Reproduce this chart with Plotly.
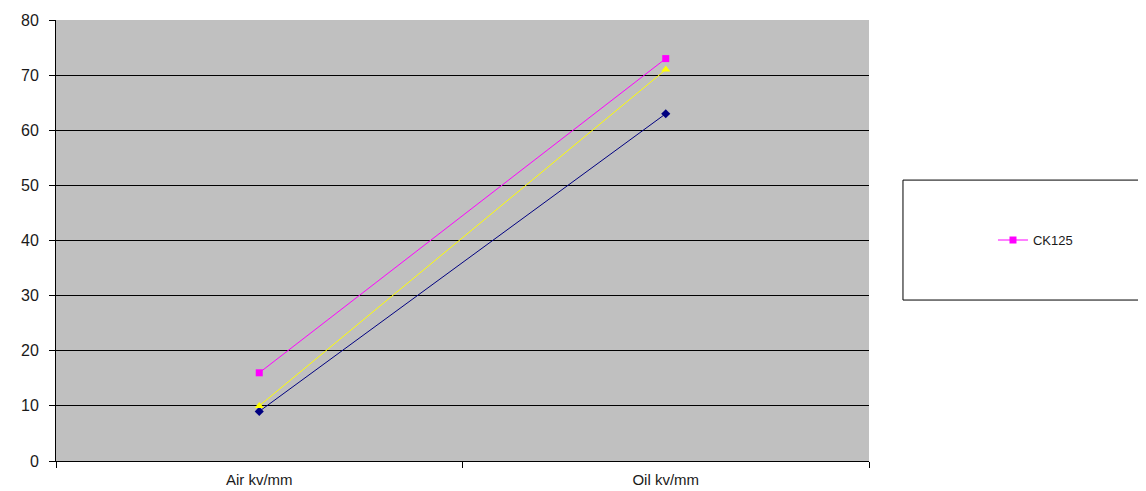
import plotly.graph_objects as go

categories = ["Air kv/mm", "Oil kv/mm"]
series_names = ["Series A", "CK125", "Series C"]
blue_vals = [9, 63]
pink_vals = [16, 73]
yellow_vals = [10, 71]

fig = go.Figure()
fig.add_trace(go.Scatter(x=categories, y=blue_vals, mode="lines+markers", name=series_names[0],
                         line=dict(color="#000080", width=1),
                         marker=dict(symbol="diamond", size=7, color="#000080"), showlegend=False))
fig.add_trace(go.Scatter(x=categories, y=yellow_vals, mode="lines+markers", name=series_names[2],
                         line=dict(color="#FFFF00", width=1),
                         marker=dict(symbol="triangle-up", size=8, color="#FFFF00"), showlegend=False))
fig.add_trace(go.Scatter(x=categories, y=pink_vals, mode="lines+markers", name=series_names[1],
                         line=dict(color="#FF00FF", width=1),
                         marker=dict(symbol="square", size=7, color="#FF00FF"), showlegend=True))

fig.update_layout(
    width=1138, height=483,
    margin=dict(l=48, r=277, t=12, b=30, autoexpand=False),
    paper_bgcolor="white", plot_bgcolor="#C0C0C0",
    font=dict(family="Liberation Sans, Arial, sans-serif", size=14, color="#1a1a1a"),
    xaxis=dict(type="category", range=[-0.5, 1.5], tickson="boundaries", ticks="outside",
               ticklen=6, tickcolor="black", showline=True, linecolor="black", linewidth=1,
               showgrid=False, zeroline=False, tickfont=dict(size=15), automargin=False,
               ticklabelstandoff=5),
    yaxis=dict(range=[0, 80], dtick=10, ticks="outside", ticklen=6, tickcolor="black",
               showline=True, linecolor="black", linewidth=1, showgrid=True,
               gridcolor="black", gridwidth=1, zeroline=False, tickfont=dict(size=16),
               automargin=False, ticklabelstandoff=7),
    legend=dict(x=1.1525, y=0.501, xanchor="left", yanchor="middle", xref="paper", yref="paper",
                bgcolor="rgba(0,0,0,0)", font=dict(size=13)),
    shapes=[dict(type="rect", xref="paper", yref="paper", x0=1.0418, x1=1.345, y0=0.365, y1=0.637,
                 line=dict(color="black", width=1), fillcolor="white", layer="below")],
)

fig.write_html("out.html")
